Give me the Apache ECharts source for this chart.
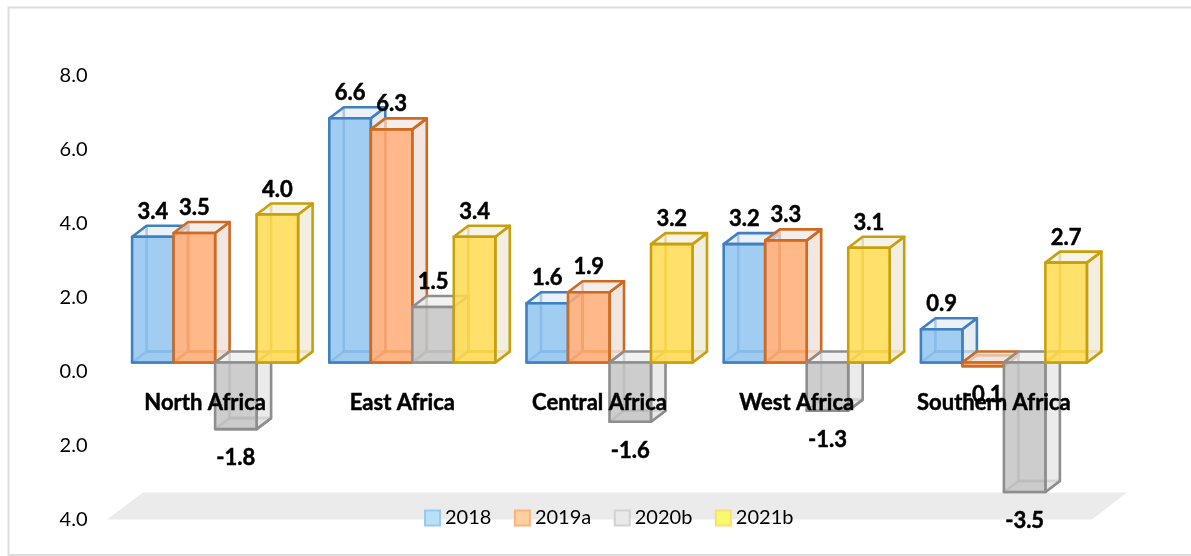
<!DOCTYPE html>
<html>
<head>
    <meta charset="utf-8">
    <title>Africa growth</title>
    <script src="https://cdn.jsdelivr.net/npm/echarts@6/dist/echarts.min.js"></script>
    <style>
        html, body { margin: 0; padding: 0; background: #fff; }
        #main { width: 1191px; height: 556px; }
    </style>
</head>
<body>
<div id="main"></div>
<script type="text/javascript">
    var categories = ['North Africa', 'East Africa', 'Central Africa', 'West Africa', 'Southern Africa'];
    var seriesNames = ['2018', '2019a', '2020b', '2021b'];
    var values2018 = [3.4, 6.6, 1.6, 3.2, 0.9];
    var values2019a = [3.5, 6.3, 1.9, 3.3, -0.1];
    var values2020b = [-1.8, 1.5, -1.6, -1.3, -3.5];
    var values2021b = [4.0, 3.4, 3.2, 3.1, 2.7];
    var allValues = [values2018, values2019a, values2020b, values2021b];

    // colours of each box: edge, front, top, side, legend fill, legend edge
    var boxColors = [
        {edge: '#3f80c2', front: 'rgba(146,196,240,0.85)', top: 'rgba(226,234,242,0.65)', side: 'rgba(222,230,238,0.75)', legend: '#b9e1f6', legendEdge: '#98c9f4'},
        {edge: '#cf6a22', front: 'rgba(255,172,116,0.85)', top: 'rgba(240,230,224,0.7)', side: 'rgba(238,226,220,0.85)', legend: '#fdd09c', legendEdge: '#fbb480'},
        {edge: '#8e8e8e', front: 'rgba(196,196,196,0.85)', top: 'rgba(236,236,236,0.7)', side: 'rgba(230,230,230,0.8)', legend: '#e9e9e9', legendEdge: '#d2d2d2'},
        {edge: '#c8a00c', front: 'rgba(255,218,80,0.85)', top: 'rgba(242,238,224,0.7)', side: 'rgba(240,235,220,0.85)', legend: '#f9f96e', legendEdge: '#fbdf70'}
    ];

    var barWidth = 41.5;
    var clusterStart = -73;     // front face of first bar, from category centre
    var frontY = -9.5;          // front plane is above the axis zero
    var depthX = 14.5, depthY = -11;
    var labelFont = 'Lato, "Liberation Sans", sans-serif';

    function poly(points, fill, stroke, opacity) {
        return {
            type: 'polygon',
            shape: {points: points},
            style: {fill: fill, stroke: stroke, lineWidth: 2.6, lineJoin: 'round', opacity: opacity == null ? 1 : opacity}
        };
    }

    function renderBox(params, api) {
        var s = params.seriesIndex - 1;
        var c = boxColors[s];
        var cat = api.value(0);
        var val = api.value(1);
        var zero = api.coord([cat, 0]);
        var end = api.coord([cat, val]);
        var x0 = zero[0] + clusterStart + s * barWidth;
        var x1 = x0 + barWidth;
        var yTop = Math.min(zero[1], end[1]) + frontY;
        var yBot = Math.max(zero[1], end[1]) + frontY;

        var children = [
            // bottom and hidden edges, seen through the front
            poly([[x0, yBot], [x1, yBot], [x1 + depthX, yBot + depthY], [x0 + depthX, yBot + depthY]], c.side, c.edge, 0.85),
            {
                type: 'polyline',
                shape: {points: [[x0 + depthX, yTop + depthY], [x0 + depthX, yBot + depthY], [x1 + depthX, yBot + depthY]]},
                style: {fill: null, stroke: c.edge, lineWidth: 2.6, opacity: 0.9}
            },
            poly([[x1, yTop], [x1 + depthX, yTop + depthY], [x1 + depthX, yBot + depthY], [x1, yBot]], c.side, c.edge),
            poly([[x0, yTop], [x0 + depthX, yTop + depthY], [x1 + depthX, yTop + depthY], [x1, yTop]], c.top, c.edge),
            poly([[x0, yTop], [x1, yTop], [x1, yBot], [x0, yBot]], c.front, c.edge),
            {
                type: 'text',
                z2: 50,
                style: {
                    text: val.toFixed(1),
                    x: (x0 + x1) / 2,
                    y: val >= 0 ? yTop - 25 : yBot + 29,
                    align: 'center',
                    verticalAlign: 'middle',
                    font: 'bold 22px ' + labelFont,
                    fill: '#000',
                    stroke: '#000',
                    lineWidth: 0.5
                }
            }
        ];
        return {type: 'group', children: children};
    }

    // grey floor under the plot, follows the axis minimum
    function renderFloor(params, api) {
        var sys = params.coordSys;
        var yf = sys.y + sys.height - 0.5;
        var l = sys.x + 0.5, r = sys.x + sys.width - 0.5;
        return {
            type: 'polygon',
            shape: {points: [[l, yf], [r, yf], [r + 35, yf - 27], [l + 36, yf - 27]]},
            style: {fill: '#ebebeb'}
        };
    }

    var seriesList = [{
        type: 'custom',
        name: 'floor',
        silent: true,
        z: 1,
        renderItem: renderFloor,
        data: [[0, -4]]
    }];
    for (var i = 0; i < seriesNames.length; i++) {
        var rows = [];
        for (var j = 0; j < categories.length; j++) {
            rows.push([j, allValues[i][j]]);
        }
        seriesList.push({
            type: 'custom',
            name: seriesNames[i],
            z: 2,
            renderItem: renderBox,
            encode: {x: 0, y: 1},
            itemStyle: {color: boxColors[i].legend},
            data: rows
        });
    }

    var legendData = [];
    for (var k = 0; k < seriesNames.length; k++) {
        legendData.push({
            name: seriesNames[k],
            icon: 'rect',
            itemStyle: {color: boxColors[k].legend, borderColor: boxColors[k].legendEdge, borderWidth: 2}
        });
    }

    var myChart = echarts.init(document.getElementById('main'));
    myChart.setOption({
        animation: false,
        backgroundColor: '#fff',
        grid: {left: 106.5, top: 76, width: 986, height: 444, outerBoundsMode: 'none'},
        graphic: [{
            type: 'rect',
            silent: true,
            z: -1,
            shape: {x: 8.5, y: 7.5, width: 1190, height: 547.5},
            style: {fill: null, stroke: '#dcdcdc', lineWidth: 2}
        }],
        legend: {
            left: 424,
            top: 508,
            padding: 0,
            z: 6,
            itemWidth: 15,
            itemHeight: 15,
            itemGap: 22.5,
            textStyle: {fontFamily: labelFont, fontSize: 20, color: '#000'},
            data: legendData
        },
        xAxis: {
            type: 'category',
            data: categories,
            z: 5,
            axisLine: {show: false},
            axisTick: {show: false},
            // labels sit just under the zero line, not under the plot
            axisLabel: {
                interval: 0,
                margin: -128,
                fontFamily: labelFont,
                fontWeight: 'bold',
                fontSize: 22,
                color: '#000',
                textBorderColor: '#000',
                textBorderWidth: 0.5
            }
        },
        yAxis: {
            type: 'value',
            min: -4,
            max: 8,
            interval: 2,
            splitLine: {show: false},
            axisLine: {show: false},
            axisTick: {show: false},
            axisLabel: {
                margin: 19,
                fontFamily: labelFont,
                fontSize: 20,
                color: '#000',
                formatter: function (v) { return Math.abs(v).toFixed(1); }
            }
        },
        series: seriesList
    });
</script>
</body>
</html>
